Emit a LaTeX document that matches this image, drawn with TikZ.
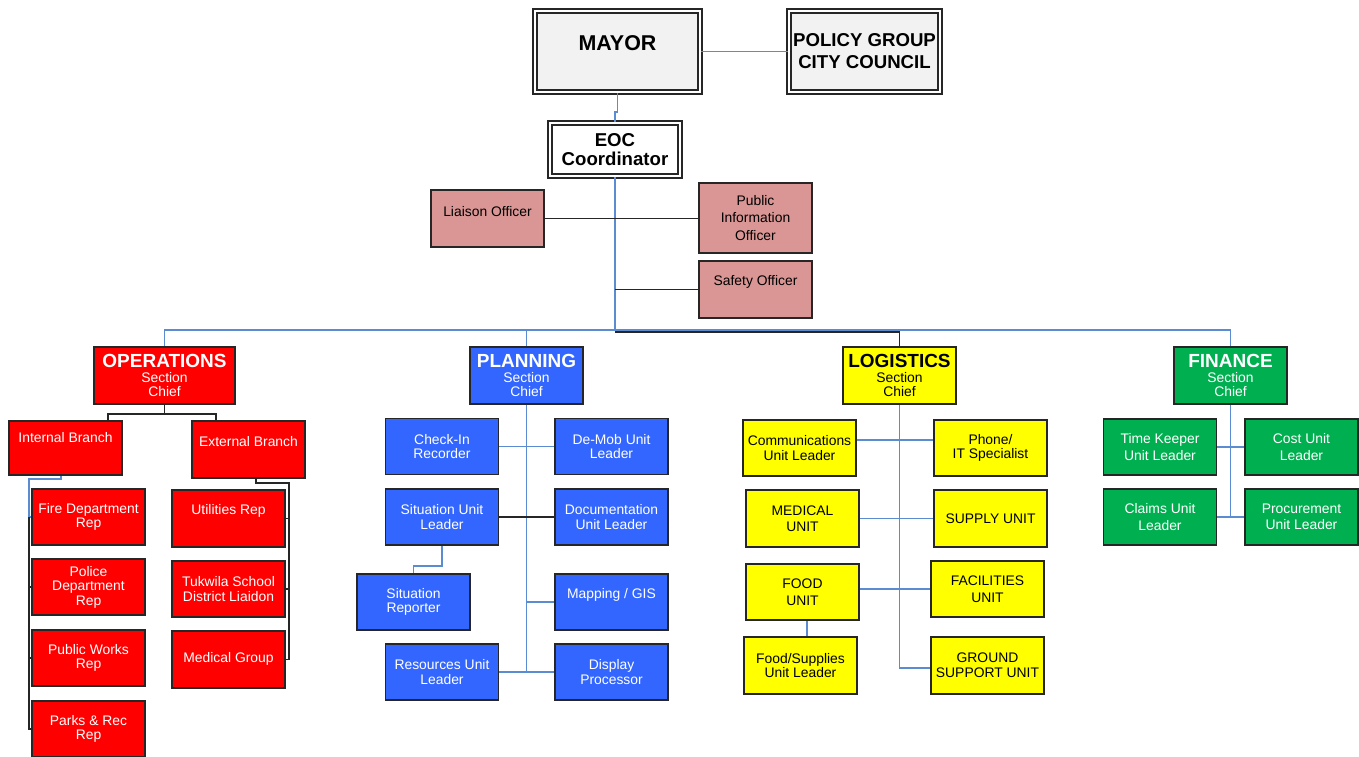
\documentclass[tikz,border=0pt]{standalone}
\usepackage{fontspec}
\setmainfont{Liberation Sans}
\usetikzlibrary{positioning}

\definecolor{headgray}{HTML}{F2F2F2}
\definecolor{cmdrose}{HTML}{D99694}
\definecolor{opsred}{HTML}{FF0000}
\definecolor{planblue}{HTML}{3366FF}
\definecolor{logyellow}{HTML}{FFFF00}
\definecolor{fingreen}{HTML}{00B050}
\definecolor{lineblue}{HTML}{5B8BD0}

\begin{document}
\begin{tikzpicture}[x=0.02cm, y=-0.02cm,
    box/.style={rectangle, draw=black!85, line width=1pt, minimum width=2.26cm, minimum height=1.12cm, align=center, inner sep=1pt, font=\fontsize{7.9}{8.2}\selectfont},
    headbox/.style={rectangle, draw=black!85, line width=0.9pt, double=white, double distance=1.1pt, align=center, inner sep=1pt},
    rosebox/.style={box, fill=cmdrose, text=black},
    redbox/.style={box, fill=opsred, text=white},
    bluebox/.style={box, fill=planblue, text=white},
    yellowbox/.style={box, fill=logyellow, text=black, font=\fontsize{7.9}{9.4}\selectfont},
    greenbox/.style={box, fill=fingreen, text=white, font=\fontsize{7.9}{9.4}\selectfont},
    lift/.style={text height=6pt, text depth=#1},
    bl/.style={draw=lineblue, line width=0.9pt},
    bk/.style={draw=black!85, line width=0.9pt}
  ]
    \useasboundingbox (0,0) rectangle (1359,757);
    % command
    \node[headbox, fill=headgray, minimum width=3.3cm, minimum height=1.62cm, font=\bfseries\fontsize{12.2}{14}\selectfont, text height=9pt, text depth=10pt] (mayor) at (617.5,51.5) {MAYOR};
    \node[headbox, fill=headgray, minimum width=3.02cm, minimum height=1.62cm, font=\bfseries\fontsize{10.6}{12.5}\selectfont] (policy) at (864.5,51.5) {POLICY GROUP\\CITY COUNCIL};
    \node[headbox, fill=white, minimum width=2.6cm, minimum height=1.06cm, font=\bfseries\fontsize{10.6}{10.4}\selectfont] (eoc) at (615,149.5) {EOC\\Coordinator};
    \node[rosebox, minimum height=1.14cm, lift=8.8pt] (liaison) at (487.5,218.5) {Liaison Officer};
    \node[rosebox, minimum height=1.4cm, font=\fontsize{7.9}{9.8}\selectfont] (pio) at (755.5,218) {Public\\Information\\Officer};
    \node[rosebox, minimum height=1.14cm, lift=11.1pt] (safety) at (755.5,289.5) {Safety Officer};
    \coordinate (hub) at (615,330);

    % section chiefs
    \node[redbox, minimum width=2.82cm, minimum height=1.14cm] (ops) at (164.5,375.5) {{\bfseries\fontsize{10.8}{11}\selectfont OPERATIONS}\\Section\\Chief};
    \node[bluebox, minimum height=1.14cm] (plan) at (526.5,375.5) {{\bfseries\fontsize{10.8}{11}\selectfont PLANNING}\\Section\\Chief};
    \node[yellowbox, minimum height=1.14cm, font=\fontsize{7.9}{8.2}\selectfont] (log) at (899.5,375.5) {{\bfseries\fontsize{10.8}{11}\selectfont LOGISTICS}\\Section\\Chief};
    \node[greenbox, minimum height=1.14cm, font=\fontsize{7.9}{8.2}\selectfont] (fin) at (1230.5,375.5) {{\bfseries\fontsize{10.8}{11}\selectfont FINANCE}\\Section\\Chief};

    % operations
    \node[redbox, minimum height=1.08cm, lift=12.8pt] (ib) at (65.5,448) {Internal Branch};
    \node[redbox, minimum height=1.14cm, lift=9.9pt] (eb) at (248.5,449.5) {External Branch};
    \node[redbox] (fire) at (88.5,517) {Fire Department\\Rep};
    \node[redbox] (police) at (88.5,587) {Police\\Department\\Rep};
    \node[redbox] (pubw) at (88.5,658) {Public Works\\Rep};
    \node[redbox] (parks) at (88.5,729) {Parks \& Rec\\Rep};
    \node[redbox, minimum height=1.14cm, lift=11.1pt] (util) at (228.5,518.5) {Utilities Rep};
    \node[redbox] (tuk) at (228.5,589) {Tukwila School\\District Liaidon};
    \node[redbox, minimum height=1.14cm, lift=3.1pt] (medg) at (228.5,659.5) {Medical Group};
    \coordinate (ibt) at (29,479);
    \coordinate (ebt) at (289,483);

    % planning
    \node[bluebox] (checkin) at (442,446.5) {Check-In\\Recorder};
    \node[bluebox] (demob) at (611.5,446.5) {De-Mob Unit\\Leader};
    \node[bluebox] (sitl) at (442,517) {Situation Unit\\Leader};
    \node[bluebox] (docl) at (611.5,517) {Documentation\\Unit Leader};
    \node[bluebox] (sitr) at (413.5,602) {Situation\\Reporter};
    \node[bluebox, lift=10.5pt] (mapgis) at (611.5,602) {Mapping / GIS};
    \node[bluebox] (resl) at (442,672) {Resources Unit\\Leader};
    \node[bluebox] (disp) at (611.5,672) {Display\\Processor};

    % logistics
    \node[yellowbox, font=\fontsize{7.9}{8.2}\selectfont] (comm) at (799.5,448) {Communications\\Unit Leader};
    \node[yellowbox, font=\fontsize{7.9}{8.2}\selectfont] (phone) at (990.5,448) {Phone/\\IT Specialist};
    \node[yellowbox, minimum height=1.14cm] (medu) at (802.5,518.5) {MEDICAL\\UNIT};
    \node[yellowbox, minimum height=1.14cm] (supply) at (990.5,518.5) {SUPPLY UNIT};
    \node[yellowbox] (food) at (802.5,592) {FOOD\\UNIT};
    \node[yellowbox] (facil) at (987.5,589) {FACILITIES\\UNIT};
    \node[yellowbox, minimum height=1.14cm, font=\fontsize{7.9}{8.2}\selectfont] (fsul) at (800.5,665.5) {Food/Supplies\\Unit Leader};
    \node[yellowbox, minimum height=1.14cm, font=\fontsize{7.9}{8.6}\selectfont] (gsu) at (987.5,665.5) {GROUND\\SUPPORT UNIT};

    % finance
    \node[greenbox] (timek) at (1160,447) {Time Keeper\\Unit Leader};
    \node[greenbox] (cost) at (1301.5,447) {Cost Unit\\Leader};
    \node[greenbox] (claims) at (1160,517) {Claims Unit\\Leader};
    \node[greenbox] (proc) at (1301.5,517) {Procurement\\Unit Leader};

    % command links
    \draw[bl] (mayor.east) -- (policy.west);
    \draw[bl] (mayor.south) -- ++(0,19) -| (eoc.north);
    \draw[bl] (eoc.south) -- (hub);
    \draw[bk] (liaison.east) -- (liaison.east -| pio.west);
    \draw[bk] (safety.west) -- (safety.west -| eoc.south);
    \draw[bl] (ops.north) |- (fin.north |- hub) -- (fin.north);
    \draw[bl] (plan.north) -- (plan.north |- hub);
    \draw[bk] ([yshift=-0.04cm]hub) -| (log.north);

    % operations links
    \draw[bk] (ops.south) -- ++(0,9) -| ([xshift=0.85cm]ib.north);
    \draw[bk] (ops.south) -- ++(0,9) -| ([xshift=-0.65cm]eb.north);
    \draw[bl] ([xshift=-0.09cm]ib.south) |- (ibt) |- (fire.west);
    \draw[bk] (fire.west -| ibt) |- (parks.west);
    \draw[bk] (police.west) -- (police.west -| ibt);
    \draw[bk] (pubw.west) -- (pubw.west -| ibt);
    \draw[bk] ([xshift=0.15cm]eb.south) |- (ebt) |- (medg.east);
    \draw[bk] (util.east) -- (util.east -| ebt);
    \draw[bk] (tuk.east) -- (tuk.east -| ebt);

    % planning links
    \draw[bl] (plan.south) |- (resl.east);
    \draw[bl] (disp.west) -- (disp.west -| plan.south);
    \draw[bl] (checkin.east) -- (demob.west);
    \draw[bk] (sitl.east) -- (docl.west);
    \draw[bl] (mapgis.west) -- (mapgis.west -| plan.south);
    \draw[bl] (sitl.south) -- ++(0,20) -| (sitr.north);

    % logistics links
    \draw[bl] (log.south) |- ([yshift=-0.05cm]gsu.west);
    \draw[bl] ([yshift=0.16cm]comm.east) -- ([yshift=0.16cm]phone.west);
    \draw[bl] (medu.east) -- (supply.west);
    \draw[bl] (facil.west) -- (facil.west -| food.east);
    \draw[bl] ([xshift=0.09cm]food.south) -- ([xshift=0.09cm]food.south |- fsul.north);

    % finance links
    \draw[bl] (fin.south) -- (fin.south |- claims.east);
    \draw[bl] (timek.east) -- (cost.west);
    \draw[bl] (claims.east) -- (proc.west);
\end{tikzpicture}
\end{document}
